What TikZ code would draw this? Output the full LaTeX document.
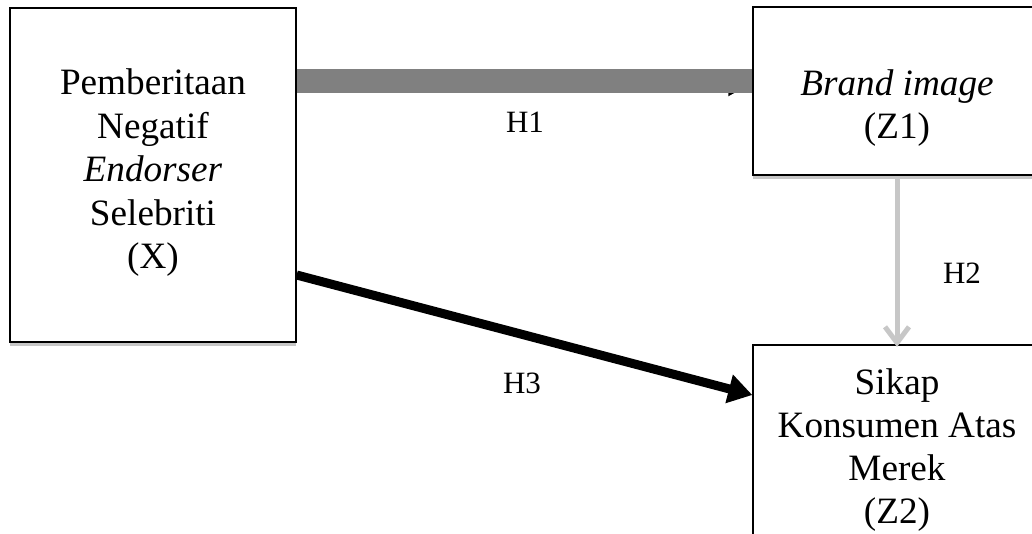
\documentclass[tikz,border=0pt]{standalone}
\usepackage{fontspec}
\setmainfont{Liberation Serif}
\usetikzlibrary{arrows.meta,shadows}
\begin{document}
\begin{tikzpicture}[x=1pt,y=-1pt,
  box/.style={draw=black, line width=1.3pt, fill=white, inner sep=0pt,
    drop shadow={shadow xshift=0pt, shadow yshift=-4pt, fill=black!22, opacity=1}},
  boxtext/.style={font=\fontsize{37.2}{43.5}\selectfont, align=center, inner sep=0pt},
  hlabel/.style={font=\fontsize{31}{36}\selectfont, inner sep=0pt},
  graybar/.style={draw=black!50, line width=24pt},
  hiddentip/.style={draw=black, line width=2pt, -{Triangle[length=24pt,width=26pt]}},
  grayarrow/.style={draw=black!22, line width=5pt, -{Straight Barb[length=16pt,width=24pt]}},
  blackarrow/.style={draw=black, line width=9pt, -{Triangle[length=24pt,width=28pt]}}]
\useasboundingbox (0,0) rectangle (1032,533);
\clip (0,0) rectangle (1032,533);

% boxes
\node[box, minimum width=286pt, minimum height=334pt] (X) at (153,175) {};
\node[box, minimum width=288pt, minimum height=168pt] (Z1) at (897,91) {};
\node[box, minimum width=288pt, minimum height=254pt] (Z2) at (897,472) {};

% box texts
\node[boxtext] (Xt) at (153,173) {Pemberitaan\\Negatif\\\textit{Endorser}\\Selebriti\\(X)};
\node[boxtext] (Z1t) at (897,108) {\textit{Brand image}\\(Z1)};
\node[boxtext, font=\fontsize{37.2}{43}\selectfont] (Z2t) at (897,450) {Sikap\\Konsumen Atas\\Merek\\(Z2)};

% anchor heights
\coordinate (c1) at (0,81);
\coordinate (c1b) at (0,83);
\coordinate (c3s) at (0,275);
\coordinate (c3e) at (0,395);

% connectors
\draw[hiddentip] (X.east |- c1b) -- (Z1.west |- c1b);
\draw[graybar] (X.east |- c1) -- (Z1.west |- c1);
\coordinate (h2s) at (897,179);
\coordinate (h2e) at (897,347);
\draw[grayarrow] (Z1.south |- h2s) -- (Z2.north |- h2e);
\draw[blackarrow] (X.east |- c3s) -- (Z2.west |- c3e);

% labels
\node[hlabel] (H1) at (525,122) {H1};
\node[hlabel] (H2) at (962,273) {H2};
\node[hlabel] (H3) at (522,383) {H3};
\end{tikzpicture}
\end{document}
